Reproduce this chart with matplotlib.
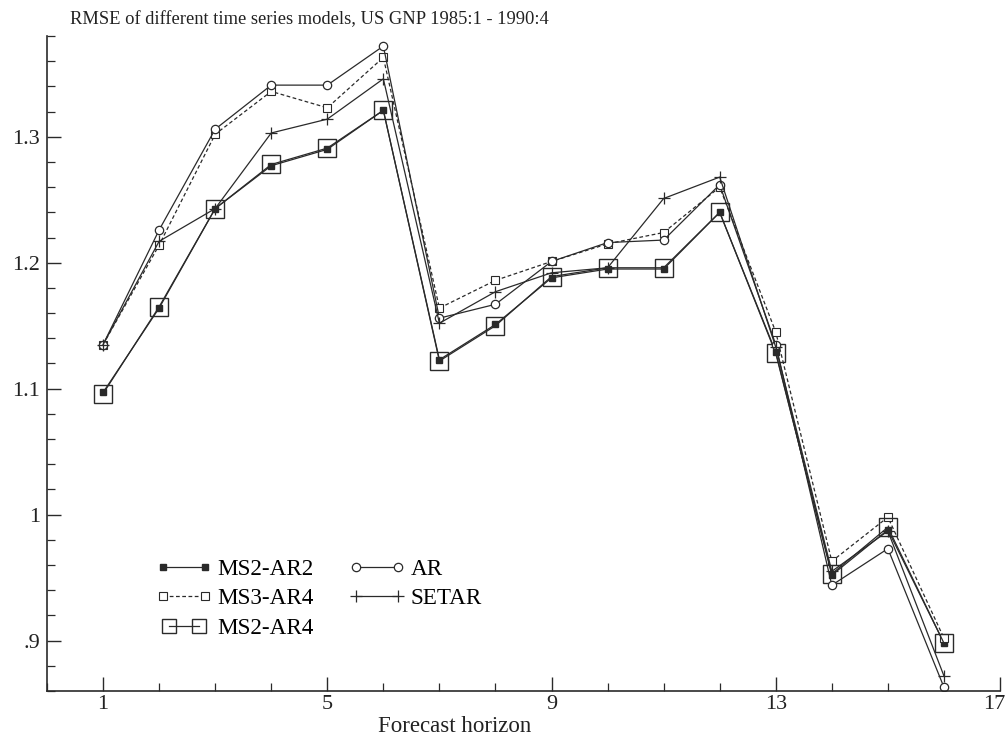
import matplotlib
matplotlib.use("Agg")
import matplotlib.pyplot as plt
import matplotlib.transforms as mtransforms
from matplotlib.legend_handler import HandlerLine2D
from matplotlib.lines import Line2D
from matplotlib.ticker import FixedLocator, MultipleLocator

plt.rcParams['font.family'] = ['Liberation Serif', 'DejaVu Serif']

horizon = list(range(1, 17))
ms2_ar2 = [1.097, 1.164, 1.243, 1.277, 1.290, 1.321, 1.123, 1.151,
           1.188, 1.195, 1.195, 1.240, 1.129, 0.952, 0.988, 0.898]
ms3_ar4 = [1.135, 1.214, 1.302, 1.336, 1.323, 1.363, 1.164, 1.186,
           1.201, 1.215, 1.224, 1.260, 1.145, 0.963, 0.998, 0.902]
ms2_ar4 = [1.096, 1.165, 1.243, 1.278, 1.291, 1.321, 1.122, 1.150,
           1.189, 1.196, 1.196, 1.240, 1.128, 0.953, 0.990, 0.898]
ar = [1.135, 1.226, 1.306, 1.341, 1.341, 1.372, 1.156, 1.167,
      1.201, 1.216, 1.218, 1.262, 1.135, 0.944, 0.973, 0.863]
setar = [1.135, 1.217, 1.243, 1.303, 1.314, 1.346, 1.152, 1.177,
         1.192, 1.196, 1.251, 1.268, 1.133, 0.955, 0.987, 0.872]

y_ticks = [0.9, 1.0, 1.1, 1.2, 1.3]
y_tick_labels = ['.9', '1', '1.1', '1.2', '1.3']
x_ticks = [1, 5, 9, 13, 17]

INK = '#2a2a2a'
TXT = '#222222'
LW = 0.9

fig = plt.figure(figsize=(10.07, 7.38), dpi=100)
ax = fig.add_axes([47 / 1007, 47 / 738, 953 / 1007, 655 / 738])

ax.plot(horizon, ms2_ar2, color=INK, lw=LW, marker='s', ms=4.5,
        mfc=INK, mec=INK, label='MS2-AR2')
ax.plot(horizon, ms3_ar4, color=INK, lw=LW, ls=(0, (3, 2)), marker='s', ms=5.5,
        mfc='white', mec=INK, mew=0.8, label='MS3-AR4')
big, = ax.plot(horizon, ms2_ar4, color=INK, lw=LW, marker='s', ms=13,
               mfc='none', mec=INK, mew=1.0, label='MS2-AR4')
ax.plot(horizon, ar, color=INK, lw=LW, marker='o', ms=6,
        mfc='white', mec=INK, mew=0.9, label='AR')
ax.plot(horizon, setar, color=INK, lw=LW, marker='+', ms=8,
        mec=INK, mew=0.9, label='SETAR')

ax.set_xlim(0, 17)
ax.set_ylim(0.86, 1.38)

ax.spines['top'].set_visible(False)
ax.spines['right'].set_visible(False)
for s in ('left', 'bottom'):
    ax.spines[s].set_linewidth(1.2)
    ax.spines[s].set_color(INK)

ax.xaxis.set_major_locator(FixedLocator(x_ticks))
ax.xaxis.set_minor_locator(MultipleLocator(1))
ax.set_yticks(y_ticks)
ax.set_yticklabels(y_tick_labels)
ax.yaxis.set_minor_locator(MultipleLocator(0.02))
ax.tick_params(which='both', direction='in', colors=INK, labelcolor=TXT)
ax.tick_params(which='major', length=10, width=1.0, labelsize=16)
ax.tick_params(which='minor', length=6, width=0.9)
ax.tick_params(axis='x', which='major', pad=3)
ax.tick_params(axis='y', which='major', pad=5)

# last x label sits against the right edge
fig.canvas.draw()
last = ax.get_xticklabels()[-1]
last.set_horizontalalignment('right')
last.set_transform(last.get_transform() +
                   mtransforms.ScaledTranslation(5 / 100, 0, fig.dpi_scale_trans))

ax.set_xlabel('Forecast horizon', fontsize=16.5, color=TXT)
ax.xaxis.set_label_coords(455 / 1007, 1 / 738, transform=fig.transFigure)
ax.xaxis.label.set_verticalalignment('bottom')

fig.text(70 / 1007, 1 - 20 / 738,
         'RMSE of different time series models, US GNP 1985:1 - 1990:4',
         fontsize=13.3, va='center', ha='left', color=TXT)


def smaller_square(legend_handle, orig_handle):
    legend_handle.update_from(orig_handle)
    legend_handle.set_markersize(10)


# markers at both ends of each legend line, as in the original
leg = ax.legend(loc='upper left', bbox_to_anchor=(0.122, 0.202), ncol=2,
                frameon=False, fontsize=16.7, handlelength=1.8, numpoints=2,
                handletextpad=0.55, columnspacing=1.8, labelspacing=0.35,
                borderaxespad=0, borderpad=0,
                handler_map={Line2D: HandlerLine2D(marker_pad=0.0),
                             big: HandlerLine2D(marker_pad=0.25,
                                                update_func=smaller_square)})

fig.savefig('out.png', dpi=100)
